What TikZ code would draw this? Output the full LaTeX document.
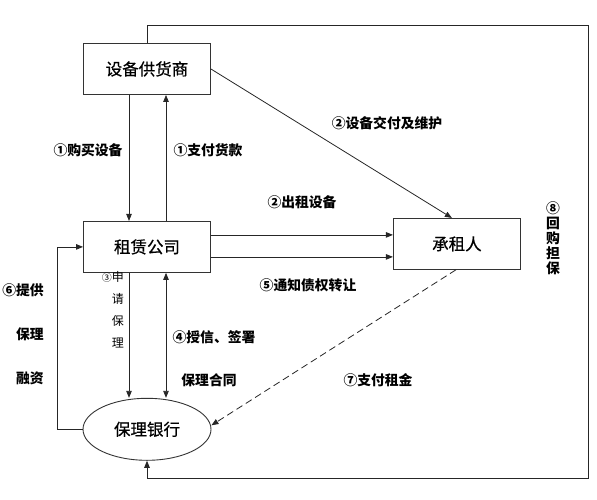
\documentclass[tikz,border=0pt]{standalone}
\usepackage{fontspec}
\setmainfont{Noto Sans CJK SC}
\newfontfamily\boxfont{Noto Sans CJK SC}[FakeBold=0.6]
\usetikzlibrary{arrows.meta,positioning,shapes.geometric}

\begin{document}
\begin{tikzpicture}[
    x=1pt, y=1pt,
    node distance=0mm,
    >={Triangle[length=7pt,width=5.5pt]},
    box/.style={draw=black!80, line width=0.9pt, minimum width=127pt, minimum height=51pt, align=center, font=\boxfont\fontsize{16.5}{18}\selectfont},
    note/.style={font=\fontsize{13.8}{15}\selectfont\bfseries, inner sep=1pt},
    arr/.style={->, line width=0.8pt, draw=black!85},
    arrboth/.style={<->, line width=0.8pt, draw=black!85}
]
\useasboundingbox (0,0) rectangle (597,-500);
\node[box] (sup) at (147,-69) {设备供货商};
\node[box, below=126pt of sup] (lease) {租赁公司};
\node[box, right=182pt of lease, yshift=3pt] (ten) {承租人};
\node[box, ellipse, minimum width=128pt, minimum height=62pt, below=125pt of lease] (bank) {保理银行};

\coordinate (tr) at (588,-25);
\coordinate (br) at (588,-478);

\draw[arr] ([xshift=-18pt]sup.south) -- ([xshift=-18pt]lease.north);
\draw[arr] ([xshift=19pt]lease.north) -- ([xshift=19pt]sup.south);
\draw[arr] (sup.east) -- ([xshift=-5pt]ten.north);
\draw[arr] ([yshift=12pt]lease.east) -- ([yshift=12pt]lease.east -| ten.west);
\draw[arr] ([yshift=-10pt]lease.east) -- ([yshift=-10pt]lease.east -| ten.west);
\draw[arr] ([xshift=-18pt]lease.south) -- ([xshift=-18pt]lease.south |- bank.north);
\draw[arrboth] ([xshift=19pt]lease.south) -- ([xshift=19pt]lease.south |- bank.north);
\draw[arr] (bank.west) -- ++(-25pt,0) |- (lease.west);
\draw[arr, dash pattern=on 7pt off 4pt] ([xshift=-1pt]ten.south) -- ([yshift=4pt]bank.east);
\draw[arr] (sup.north) |- (tr) -- (br) -| (bank.south);

\node[note] (buy) at (88,-150) {①购买设备};
\node[note] (pay) at (208,-150) {①支付货款};
\node[note] (deliver) at (387,-123) {②设备交付及维护};
\node[note] (rent) at (302,-202) {②出租设备};
\node[note] (notify) at (308,-285) {⑤通知债权转让};
\node[note, align=center] (buyback) at (553,-238) {⑧\\回\\购\\担\\保};
\node[note, align=right, anchor=east] (finance) at (45,-334) {⑥提供\\[29pt]保理\\[29pt]融资};
\node[font=\fontsize{12}{22}\selectfont, align=right, anchor=east, inner sep=1pt] (apply) at (125,-310) {{\fontsize{10}{22}\selectfont ③}申\\请\\保\\理};
\node[note] (credit) at (214,-337) {④授信、签署};
\node[note] (contract) at (209,-380) {保理合同};
\node[note] (rentpay) at (378,-380) {⑦支付租金};
\end{tikzpicture}
\end{document}
